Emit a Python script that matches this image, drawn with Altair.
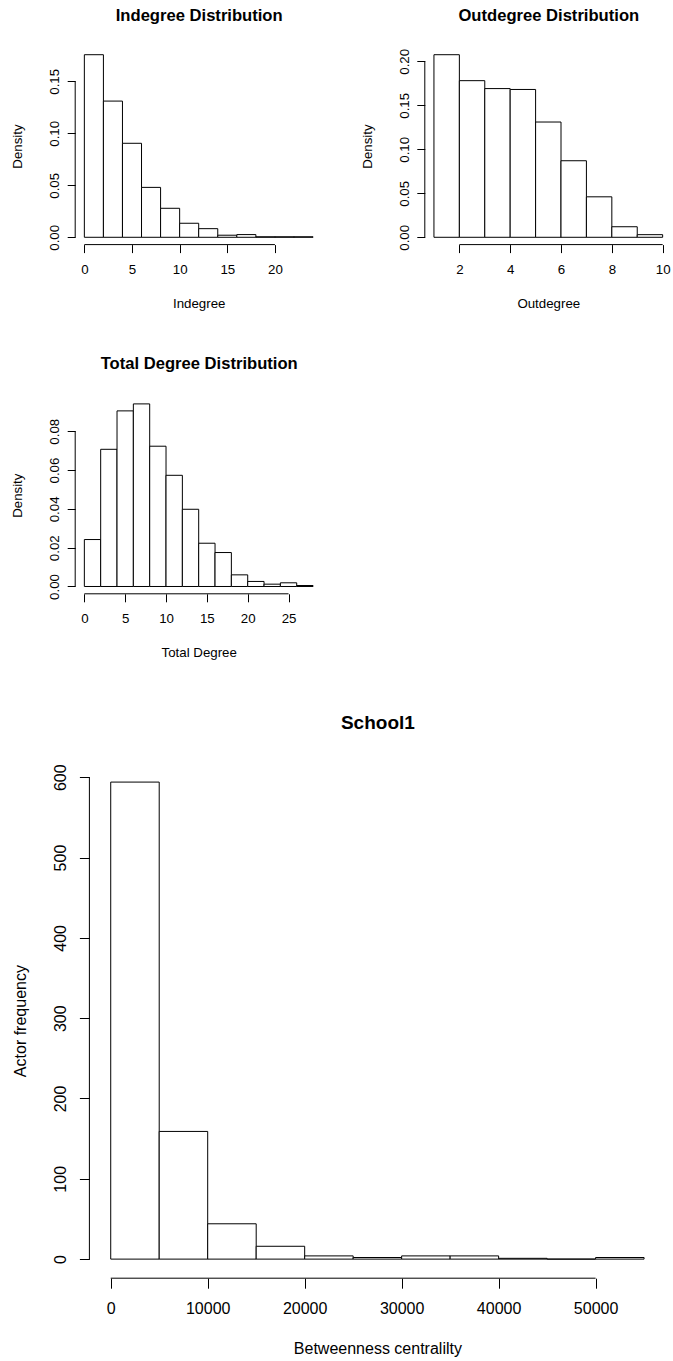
import altair as alt
import pandas as pd

FONT = "Liberation Sans"
PAGE_W, PAGE_H = 673, 1361

# ---- data ----
in_edges = [0, 2, 4, 6, 8, 10, 12, 14, 16, 18, 20, 22, 24]
in_density = [0.1756, 0.131, 0.0904, 0.048, 0.0279, 0.0135, 0.0083, 0.002, 0.0026, 0.0005, 0.0005, 0.0005]
in_xticks = [0, 5, 10, 15, 20]
in_yticks = [0.0, 0.05, 0.10, 0.15]

out_edges = [1, 2, 3, 4, 5, 6, 7, 8, 9, 10]
out_density = [0.2075, 0.178, 0.169, 0.168, 0.131, 0.087, 0.046, 0.012, 0.003]
out_xticks = [2, 4, 6, 8, 10]
out_yticks = [0.0, 0.05, 0.10, 0.15, 0.20]

tot_edges = [0, 2, 4, 6, 8, 10, 12, 14, 16, 18, 20, 22, 24, 26, 28]
tot_density = [0.0242, 0.0707, 0.0905, 0.0941, 0.0723, 0.0573, 0.0398, 0.0223, 0.0175, 0.006, 0.0026, 0.0012, 0.0019, 0.0005]
tot_xticks = [0, 5, 10, 15, 20, 25]
tot_yticks = [0.0, 0.02, 0.04, 0.06, 0.08]

btw_edges = [0, 5000, 10000, 15000, 20000, 25000, 30000, 35000, 40000, 45000, 50000, 55000]
btw_counts = [594, 159, 44, 16, 4, 2, 4, 4, 1, 0, 2]
btw_xticks = [0, 10000, 20000, 30000, 40000, 50000]
btw_yticks = [0, 100, 200, 300, 400, 500, 600]


def panel(edges, vals, xticks, yticks, yfmt, title, xtitle, ytitle,
          left, top, width, height, fs, tfs, tick, xlab_off, ylab_off,
          xtitle_off, ytitle_off, title_off):
    """One R-style histogram placed in its own region of the page."""
    df = pd.DataFrame({"start": edges[:-1], "end": edges[1:], "value": vals,
                       "base": [0] * len(vals)})
    xr = edges[-1] - edges[0]
    xdom = [edges[0] - 0.04 * xr, edges[-1] + 0.04 * xr]
    ym = max(vals)
    ydom = [-0.04 * ym, 1.04 * ym]
    right, bottom = left + width, top + height
    cx, cy = left + width / 2, top + height / 2
    xscale = alt.Scale(domain=xdom, nice=False, zero=False, range=[left, right])
    yscale = alt.Scale(domain=ydom, nice=False, zero=False, range=[bottom, top])

    common = dict(domain=False, grid=False, tickColor="black", tickWidth=1,
                  tickSize=tick, labelFont=FONT, labelFontSize=fs,
                  labelColor="black", labelFlush=False, labelOverlap=False,
                  titleFont=FONT, titleFontSize=fs, titleColor="black",
                  titleFontWeight="normal", titleBaseline="middle",
                  titleAlign="center")
    xaxis = alt.Axis(orient="bottom", offset=bottom - PAGE_H,
                     values=xticks, format="d", title=xtitle,
                     labelBaseline="middle", labelAlign="center",
                     labelPadding=xlab_off - tick,
                     titleX=cx, titleY=xtitle_off, **common)
    yaxis = alt.Axis(orient="left", offset=-left,
                     values=yticks, format=yfmt, title=ytitle,
                     labelAngle=270, labelBaseline="middle", labelAlign="center",
                     labelPadding=ylab_off - tick,
                     titleAngle=270, titleX=-ytitle_off, titleY=cy, **common)
    # panel title, carried by a title-only axis along the top of the panel
    taxis = alt.Axis(orient="top", offset=-top, domain=False, ticks=False,
                     labels=False, grid=False, title=title, titleFont=FONT,
                     titleFontSize=tfs, titleFontWeight="bold", titleColor="black",
                     titleBaseline="middle", titleAlign="center",
                     titleX=cx, titleY=-title_off)

    bars = alt.Chart(df).mark_bar(fill="white", stroke="black", strokeWidth=1).encode(
        x=alt.X("start:Q", scale=xscale, axis=xaxis),
        x2="end:Q",
        y=alt.Y("value:Q", scale=yscale, axis=yaxis),
        y2="base:Q",
    )
    xline_df = pd.DataFrame({"x0": [xticks[0]], "x1": [xticks[-1]], "y": [ydom[0]]})
    xline = alt.Chart(xline_df).mark_rule(color="black", strokeWidth=1).encode(
        x=alt.X("x0:Q", scale=xscale, axis=taxis),
        x2="x1:Q",
        y=alt.Y("y:Q", scale=yscale, axis=None),
    )
    yline_df = pd.DataFrame({"x": [xdom[0]], "y0": [yticks[0]], "y1": [yticks[-1]]})
    yline = alt.Chart(yline_df).mark_rule(color="black", strokeWidth=1).encode(
        x=alt.X("x:Q", scale=xscale, axis=None),
        y=alt.Y("y0:Q", scale=yscale, axis=None),
        y2="y1:Q",
    )
    return [bars, xline, yline]


small = dict(width=247, height=197.2, fs=13.3, tfs=16.6, tick=8, xlab_off=24.5,
             ylab_off=20.5, xtitle_off=59, ytitle_off=57.5)

layers = []
layers += panel(in_edges, in_density, in_xticks, in_yticks, ".2f",
                "Indegree Distribution", "Indegree", "Density",
                left=75.2, top=47.4, title_off=32.4, **small)
layers += panel(out_edges, out_density, out_xticks, out_yticks, ".2f",
                "Outdegree Distribution", "Outdegree", "Density",
                left=424.8, top=47.4, title_off=32.4, **small)
layers += panel(tot_edges, tot_density, tot_xticks, tot_yticks, ".2f",
                "Total Degree Distribution", "Total Degree", "Density",
                left=75.2, top=396.6, title_off=33.6, **small)
layers += panel(btw_edges, btw_counts, btw_xticks, btw_yticks, "d",
                "School1", "Betweenness centralilty", "Actor frequency",
                left=89.4, top=763, width=576, height=515.2, fs=16, tfs=19,
                tick=10, xlab_off=30, ylab_off=29.4, xtitle_off=70,
                ytitle_off=69.4, title_off=40.5)

chart = alt.layer(*layers).resolve_scale(
    x="independent", y="independent"
).resolve_axis(
    x="independent", y="independent"
).properties(
    width=PAGE_W, height=PAGE_H,
    autosize=alt.AutoSizeParams(type="none"),
    padding=0,
    background="white",
).configure_view(stroke=None)

chart.save("out.html", embed_options={"renderer": "svg", "actions": False})
